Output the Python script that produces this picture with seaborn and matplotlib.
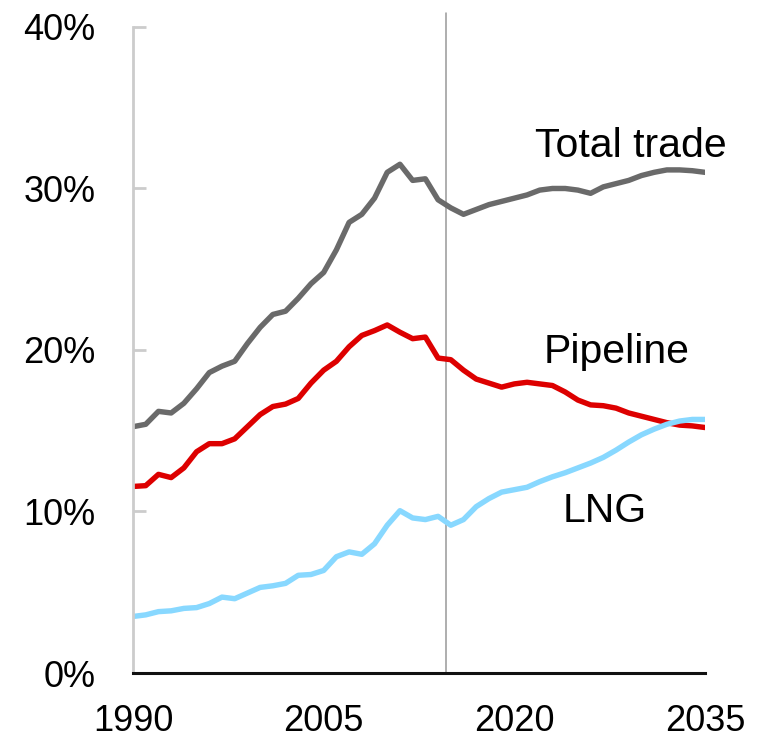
import matplotlib
matplotlib.use("Agg")
import matplotlib.pyplot as plt
import seaborn as sns
import pandas as pd

years = list(range(1990, 2036))
total_trade = [15.25, 15.4, 16.2, 16.1, 16.7, 17.6, 18.6, 19.0, 19.3, 20.4,
               21.4, 22.2, 22.4, 23.2, 24.1, 24.8, 26.2, 27.9, 28.4, 29.4,
               31.0, 31.5, 30.5, 30.6, 29.3, 28.8, 28.4, 28.7, 29.0, 29.2,
               29.4, 29.6, 29.9, 30.0, 30.0, 29.9, 29.7, 30.1, 30.3, 30.5,
               30.8, 31.0, 31.15, 31.15, 31.1, 31.0]
pipeline = [11.55, 11.6, 12.3, 12.1, 12.7, 13.7, 14.2, 14.2, 14.5, 15.25,
            16.0, 16.5, 16.65, 17.0, 17.95, 18.75, 19.3, 20.2, 20.9, 21.2,
            21.55, 21.1, 20.7, 20.8, 19.5, 19.4, 18.75, 18.2, 17.95, 17.7,
            17.9, 18.0, 17.9, 17.8, 17.4, 16.9, 16.6, 16.55, 16.4, 16.1,
            15.9, 15.7, 15.5, 15.35, 15.3, 15.2]
lng = [3.5, 3.6, 3.8, 3.85, 4.0, 4.05, 4.3, 4.7, 4.6, 4.95,
       5.3, 5.4, 5.55, 6.05, 6.1, 6.35, 7.2, 7.5, 7.35, 8.0,
       9.15, 10.05, 9.6, 9.5, 9.7, 9.15, 9.5, 10.3, 10.8, 11.2,
       11.35, 11.5, 11.85, 12.15, 12.4, 12.7, 13.0, 13.35, 13.8, 14.3,
       14.75, 15.1, 15.4, 15.6, 15.7, 15.7]
series_names = ["Total trade", "Pipeline", "LNG"]
series_colors = ["#6a6a6a", "#dd0000", "#88d8ff"]
x_ticks = [1990, 2005, 2020, 2035]
y_ticks = [0, 10, 20, 30, 40]

df = pd.concat([
    pd.DataFrame({"year": years, "share": vals, "series": name})
    for name, vals in zip(series_names, [total_trade, pipeline, lng])
])

sns.set_theme(style="white")
plt.rcParams["font.family"] = ["Liberation Sans", "DejaVu Sans"]

fig = plt.figure(figsize=(7.61, 7.43), dpi=100)
ax = fig.add_axes([0.1748, 0.0942, 0.7516, 0.8695])

sns.lineplot(data=df, x="year", y="share", hue="series",
             palette=dict(zip(series_names, series_colors)),
             linewidth=3.9, legend=False, ax=ax)

ax.set_xlim(1990, 2035)
ax.set_ylim(0, 40)
ax.set_xticks(x_ticks)
ax.set_xticklabels([str(t) for t in x_ticks])
ax.set_yticks(y_ticks)
ax.set_yticklabels([f"{t}%" for t in y_ticks])
ax.set_xlabel("")
ax.set_ylabel("")

for s in ["top", "right"]:
    ax.spines[s].set_visible(False)
ax.spines["left"].set_color("#cccccc")
ax.spines["left"].set_linewidth(2.0)
ax.spines["bottom"].set_color("#111111")
ax.spines["bottom"].set_linewidth(2.2)
ax.spines["bottom"].set_zorder(5)

ax.tick_params(axis="y", direction="in", length=9, width=2.0, color="#cccccc",
               labelsize=26, pad=27, left=True, labelcolor="black")
ax.tick_params(axis="x", length=0, labelsize=26, pad=22, labelcolor="black")

ax.axvline(2014.6, ymin=0, ymax=1.022, color="#999999", lw=1.1, clip_on=False, zorder=1)

ax.text(2021.6, 32.6, "Total trade", fontsize=29.5, va="center", ha="left", color="black")
ax.text(2022.3, 19.9, "Pipeline", fontsize=29.5, va="center", ha="left", color="black")
ax.text(2023.8, 10.0, "LNG", fontsize=29.5, va="center", ha="left", color="black")

fig.savefig("out.png", dpi=100, facecolor="white")
